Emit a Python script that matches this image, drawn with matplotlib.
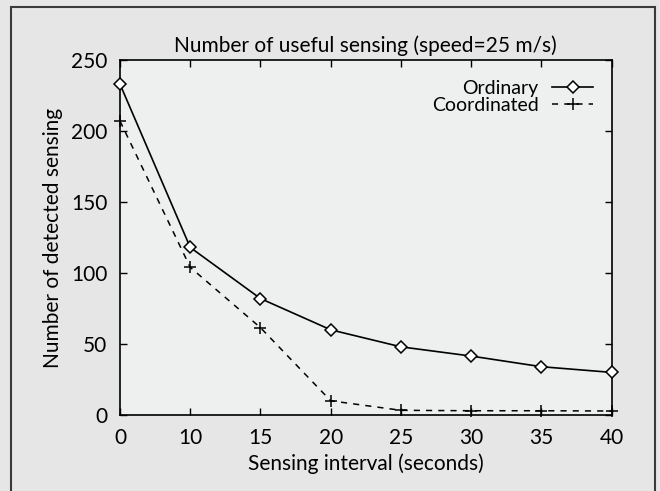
import matplotlib
matplotlib.use("Agg")
import matplotlib.pyplot as plt
from matplotlib.patches import Rectangle

intervals = ["0", "10", "15", "20", "25", "30", "35", "40"]
ordinary = [233, 118, 82, 60, 48, 41.5, 34, 30]
coordinated = [207, 104, 61.5, 10, 3.3, 3, 3, 2.8]
yticks = [0, 50, 100, 150, 200, 250]

plt.rcParams['font.family'] = ['Lato', 'DejaVu Sans']
W, H = 660, 491
fig = plt.figure(figsize=(W / 100, H / 100), dpi=100)
fig.patch.set_facecolor('#e6e6e6')

# outer frame
fig.add_artist(Rectangle((11 / W, -0.05), (655 - 11) / W, (H - 7) / H + 0.05,
                         transform=fig.transFigure, fill=False,
                         edgecolor='#3a3a3a', linewidth=1.5))

ax_w = 611.7 - 120
ax_h = 415 - 60
ax = fig.add_axes([120 / W, (H - 415) / H, ax_w / W, ax_h / H])
ax.set_facecolor('#edf0ef')

x = list(range(len(intervals)))
ax.plot(x, ordinary, color='black', linewidth=1.2, marker='D', markersize=6,
        markerfacecolor='white', markeredgecolor='black', markeredgewidth=1.1,
        label='Ordinary', clip_on=False, zorder=3)
ax.plot(x, coordinated, color='black', linewidth=1.1, linestyle=(0, (4, 4)),
        marker='+', markersize=8, markeredgewidth=1.1,
        label='Coordinated', clip_on=False, zorder=3)

ax.set_xlim(0, len(intervals) - 1)
ax.set_ylim(0, 250)
ax.set_xticks(x)
ax.set_xticklabels(intervals)
ax.set_yticks(yticks)
ax.tick_params(direction='in', length=5, width=1, top=True, right=True,
               labelsize=15, colors='black')
ax.tick_params(axis='x', pad=9)
ax.tick_params(axis='y', pad=9)
for s in ax.spines.values():
    s.set_linewidth(1.2)

ax.set_title('Number of useful sensing (speed=25 m/s)', fontsize=15, pad=6)
ax.set_xlabel('Sensing interval (seconds)', fontsize=15, labelpad=4)
ax.set_ylabel('Number of detected sensing', fontsize=15, labelpad=6)

leg = ax.legend(loc='upper right', markerfirst=False, frameon=False,
                fontsize=14, handlelength=2.1, handletextpad=0.7,
                labelspacing=0.0, borderaxespad=0.3,
                bbox_to_anchor=(1 - 5 / ax_w, 1 - 6 / ax_h))

fig.savefig('out.png', dpi=100, facecolor=fig.get_facecolor())
